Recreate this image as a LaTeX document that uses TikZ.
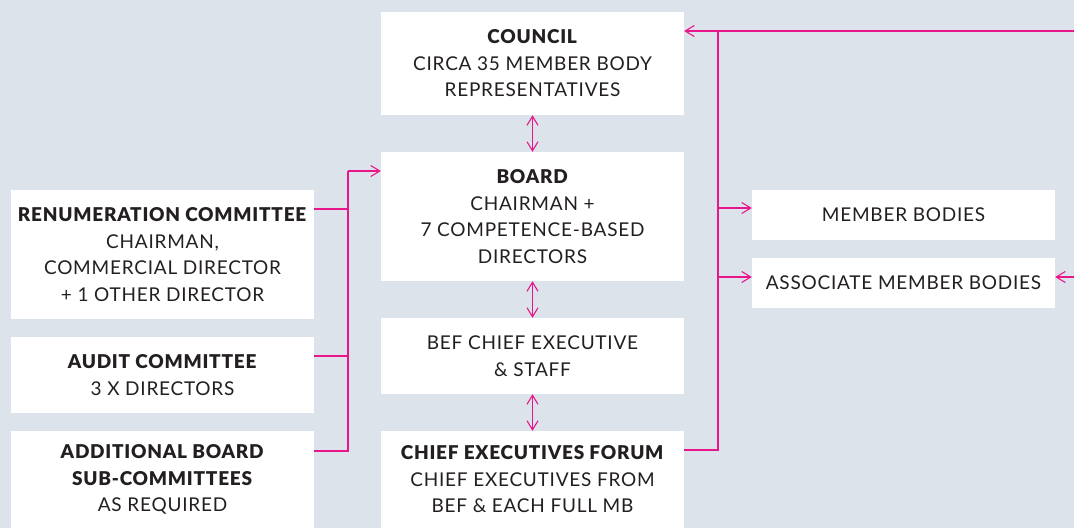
\documentclass[tikz,border=0pt]{standalone}
\usepackage{fontspec}
\setmainfont{Lato}[LetterSpace=4,BoldFont={Lato Black}]
\usetikzlibrary{arrows.meta,calc}
\definecolor{bg}{HTML}{DDE3EA}
\definecolor{pk}{HTML}{E8168A}
\definecolor{tx}{HTML}{231F20}
\tikzset{
  box/.style={fill=white, inner sep=0pt, minimum width=303pt, align=center, text=tx,
    font=\fontsize{19}{26.5}\selectfont},
  link/.style={draw=pk, line width=1.1pt},
  arr/.style={link, -{Straight Barb[length=9pt,width=11pt]}},
  darr/.style={link, {Straight Barb[length=9pt,width=11pt]}-{Straight Barb[length=9pt,width=11pt]}}
}
\begin{document}
\begin{tikzpicture}[x=1pt,y=-1pt]
\fill[bg] (0,0) rectangle (1074,528);
\useasboundingbox (0,0) rectangle (1074,528);
% center column
\node[box, minimum height=103pt] (council) at (532.5,63.5) {\textbf{COUNCIL}\\CIRCA 35 MEMBER BODY\\REPRESENTATIVES};
\node[box, minimum height=129pt] (board) at (532.5,216.5) {\textbf{BOARD}\\CHAIRMAN +\\7 COMPETENCE-BASED\\DIRECTORS};
\node[box, minimum height=76pt] (bef) at (532.5,356) {BEF CHIEF EXECUTIVE\\\& STAFF};
\node[box, minimum height=97pt] (cef) at (532.5,479.5) {\textbf{CHIEF EXECUTIVES FORUM}\\CHIEF EXECUTIVES FROM\\BEF \& EACH FULL MB};
% left column
\node[box, minimum height=129pt] (renum) at (162.5,254.5) {\textbf{RENUMERATION COMMITTEE}\\CHAIRMAN,\\COMMERCIAL DIRECTOR\\+ 1 OTHER DIRECTOR};
\node[box, minimum height=76pt] (audit) at (162.5,375) {\textbf{AUDIT COMMITTEE}\\3 X DIRECTORS};
\node[box, minimum height=97pt] (addl) at (162.5,479.5) {\textbf{ADDITIONAL BOARD}\\\textbf{SUB-COMMITTEES}\\AS REQUIRED};
% right column
\node[box, minimum height=50pt] (member) at (903.5,215) {MEMBER BODIES};
\node[box, minimum height=50pt] (assoc) at (903.5,283) {ASSOCIATE MEMBER BODIES};
% coordinates
\coordinate (topR) at (1074,31);
\coordinate (rbusT) at (718,31);
\coordinate (rbusB) at (718,450);
\coordinate (lbusT) at (348,171);
\coordinate (lbusB) at (348,451);
\coordinate (assocR) at (1074,277);
% vertical double arrows
\draw[darr] (council.south) -- (board.north);
\draw[darr] (board.south) -- (bef.north);
\draw[darr] (bef.south) -- (cef.north);
% right bus
\draw[arr] (topR) -- (topR -| council.east);
\draw[link] (cef.east |- rbusB) -- (rbusB) -- (rbusT);
\draw[arr] (718,208) -- (member.west |- 0,208);
\draw[arr] (718,277) -- (assoc.west |- 0,277);
\draw[arr] (assocR) -- (assocR -| assoc.east);
% left bus
\draw[link] (renum.east |- 0,209) -- (348,209);
\draw[link] (audit.east |- 0,356) -- (348,356);
\draw[link] (addl.east |- lbusB) -- (lbusB) -- (lbusT);
\draw[arr] (lbusT) -- (lbusT -| board.west);
\end{tikzpicture}
\end{document}
